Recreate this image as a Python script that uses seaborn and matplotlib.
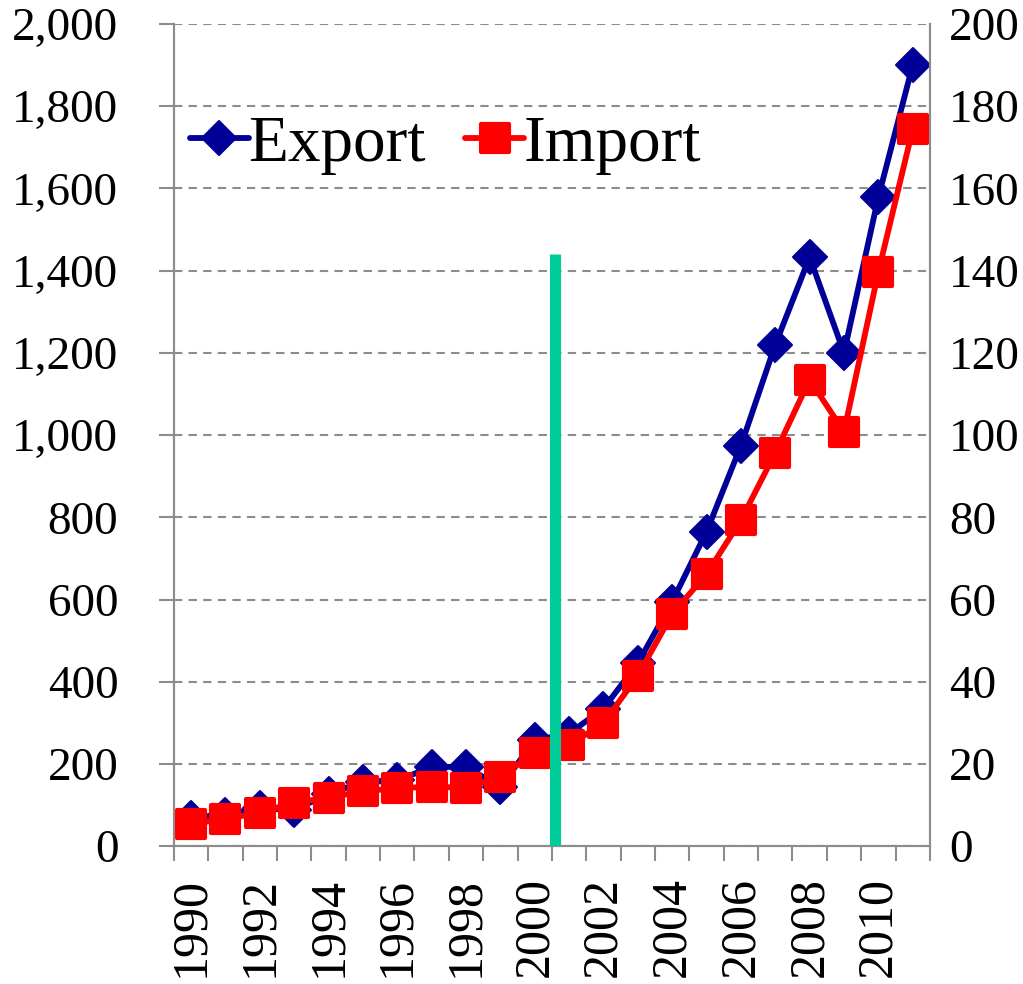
import matplotlib
matplotlib.use("Agg")
import matplotlib.pyplot as plt
from matplotlib.markers import MarkerStyle
from matplotlib.ticker import FuncFormatter, MultipleLocator
import seaborn as sns
import numpy as np


years = ['1990', '1991', '1992', '1993', '1994', '1995', '1996', '1997',
         '1998', '1999', '2000', '2001', '2002', '2003', '2004', '2005',
         '2006', '2007', '2008', '2009', '2010', '2011']

export_vals = [69, 77, 93, 88, 128, 156, 160, 193, 193, 144, 258, 274,
               335, 445, 595, 765, 974, 1220, 1433, 1200, 1579, 1900]

import_vals = [5.5, 6.6, 8.2, 10.6, 11.8, 13.4, 14.1, 14.5, 14.2, 16.9,
               22.8, 24.6, 29.9, 41.5, 56.5, 66.2, 79.3, 95.7, 113.5,
               100.8, 139.7, 174.4]

# green marker just after 2000, height read on the left axis
marker_line_pos = 10.6
marker_line_height = 1440

sns.set_theme(style="white")
plt.rcParams['font.family'] = ['Liberation Serif', 'DejaVu Serif']
plt.rcParams['text.color'] = 'black'
plt.rcParams['xtick.color'] = 'black'
plt.rcParams['ytick.color'] = 'black'

blue = '#000099'
red = '#ff0000'
grey = '#8c8c8c'
tick_size = 34

fig = plt.figure(figsize=(10.23, 9.84), dpi=100)
ax = fig.add_axes([0.170, 0.140, 0.739, 0.8356])
ax2 = ax.twinx()

x = np.arange(len(years))

sns.lineplot(x=x, y=export_vals, ax=ax, color=blue, lw=4.2,
             marker=MarkerStyle('D', joinstyle='round'), markersize=17,
             markeredgecolor=blue, markeredgewidth=1.5, label='Export',
             legend=False)
sns.lineplot(x=x, y=import_vals, ax=ax2, color=red, lw=4.2,
             marker=MarkerStyle('s', joinstyle='round'), markersize=20,
             markeredgecolor=red, markeredgewidth=3, label='Import',
             legend=False)

ax2.vlines(marker_line_pos, 0, marker_line_height / 10, color='#00cc99',
           lw=8, zorder=5)

ax.set_xlim(-0.5, len(years) - 0.5)
ax.set_ylim(0, 2000)
ax2.set_ylim(0, 200)

ax.yaxis.set_major_locator(MultipleLocator(200))
ax2.yaxis.set_major_locator(MultipleLocator(20))
ax.yaxis.set_major_formatter(FuncFormatter(lambda v, p: f"{int(v):,}"))

ax.set_xticks(x[::2])
ax.set_xticklabels(years[::2], rotation=90)
ax.set_xticks(np.arange(len(years) + 1) - 0.5, minor=True)
ax.tick_params(axis='x', which='major', length=0, labelsize=36, pad=22)
ax.tick_params(axis='x', which='minor', length=11, width=1.5, color=grey,
               direction='out', bottom=True)
ax.tick_params(axis='y', length=11, width=1.5, color=grey,
               labelsize=tick_size, left=True, direction='out', pad=29)
ax2.tick_params(axis='y', length=0, labelsize=tick_size, right=True,
                pad=14)

ax.grid(axis='y', linestyle=(0, (4, 3)), color=grey, lw=1.5)
ax.grid(axis='x', visible=False)
ax2.grid(False)

for a in (ax, ax2):
    a.spines['top'].set_visible(False)
    for side in ('left', 'right', 'bottom'):
        a.spines[side].set_color(grey)
        a.spines[side].set_linewidth(1.5)
    a.set_xlabel('')
    a.set_ylabel('')

h1, l1 = ax.get_legend_handles_labels()
h2, l2 = ax2.get_legend_handles_labels()
ax2.legend(h1 + h2, l1 + l2, loc='center left',
           bbox_to_anchor=(0.021, 0.853), ncol=2, frameon=False,
           fontsize=47, handlelength=0.9, handletextpad=0.0,
           columnspacing=0.6, borderpad=0, borderaxespad=0)

fig.savefig('out.png', dpi=100)
